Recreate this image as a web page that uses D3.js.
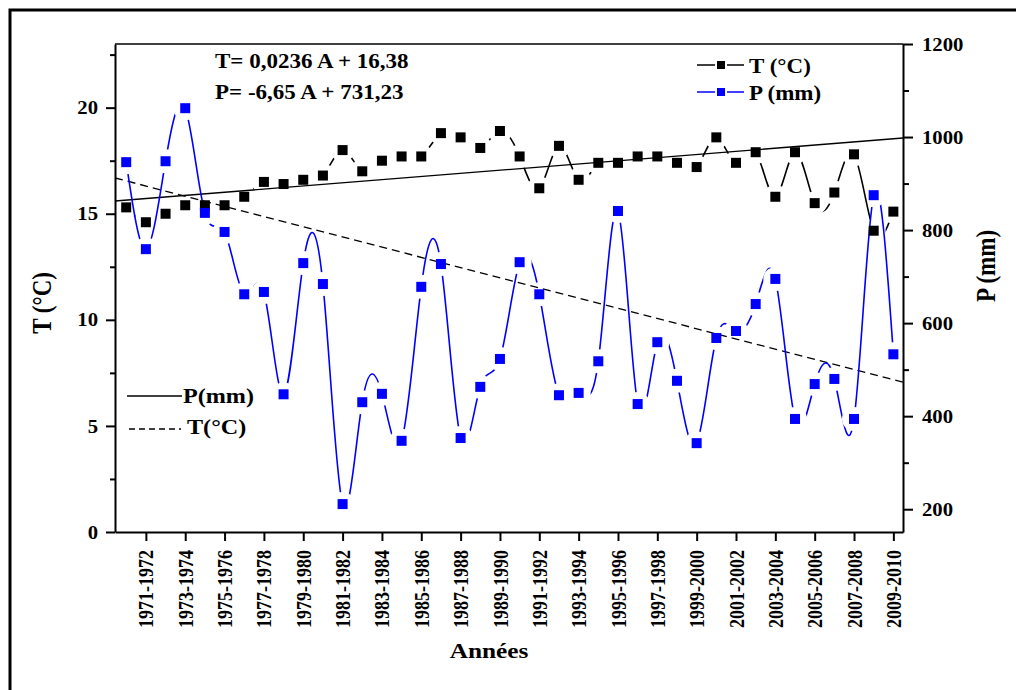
<!DOCTYPE html>
<html>
<head>
<meta charset="utf-8">
<script src="https://cdn.jsdelivr.net/npm/d3@7"></script>
<style>
  body { margin: 0; background: #fff; }
  text { font-family: "Liberation Serif", "Times New Roman", serif; font-weight: bold; fill: #000; }
</style>
</head>
<body>
<div id="chart"></div>
<script>
// hydrological years, one point per season
const seasons = [
  '1970-1971', '1971-1972', '1972-1973', '1973-1974', '1974-1975', '1975-1976', '1976-1977', '1977-1978',
  '1978-1979', '1979-1980', '1980-1981', '1981-1982', '1982-1983', '1983-1984', '1984-1985', '1985-1986',
  '1986-1987', '1987-1988', '1988-1989', '1989-1990', '1990-1991', '1991-1992', '1992-1993', '1993-1994',
  '1994-1995', '1995-1996', '1996-1997', '1997-1998', '1998-1999', '1999-2000', '2000-2001', '2001-2002',
  '2002-2003', '2003-2004', '2004-2005', '2005-2006', '2006-2007', '2007-2008', '2008-2009', '2009-2010'
];
const tempT = [
  15.3, 14.6, 15.0, 15.4, 15.4, 15.4, 15.8, 16.5, 16.4, 16.6,
  16.8, 18.0, 17.0, 17.5, 17.7, 17.7, 18.8, 18.6, 18.1, 18.9,
  17.7, 16.2, 18.2, 16.6, 17.4, 17.4, 17.7, 17.7, 17.4, 17.2,
  18.6, 17.4, 17.9, 15.8, 17.9, 15.5, 16.0, 17.8, 14.2, 15.1
];
const precipP = [
  946, 759, 948, 1062, 837, 796, 662, 667, 447, 729,
  684, 211, 430, 448, 347, 678, 727, 353, 463, 523,
  731, 662, 445, 450, 518, 841, 426, 559, 476, 342,
  568, 583, 641, 695, 394, 469, 480, 394, 875, 533
];
const xTickLabels = [
  '1971-1972', '1973-1974', '1975-1976', '1977-1978', '1979-1980', '1981-1982', '1983-1984',
  '1985-1986', '1987-1988', '1989-1990', '1991-1992', '1993-1994', '1995-1996', '1997-1998',
  '1999-2000', '2001-2002', '2003-2004', '2005-2006', '2007-2008', '2009-2010'
];
const tTicks = [0, 5, 10, 15, 20];
const tMinor = [2.5, 7.5, 12.5, 17.5, 22.5];
const pTicks = [200, 400, 600, 800, 1000, 1200];
const pMinor = [300, 500, 700, 900, 1100];
// regression lines, values at left and right edge of the plot
const trendT = [15.6, 18.57];
const trendP = [912, 473];

const W = 1016, H = 690;
const SX = 1.15; // the source picture is a bit stretched horizontally
const pL = 115, pR = 903, pT = 44, pB = 532;

const svg = d3.select('#chart').append('svg').attr('width', W).attr('height', H);

const x = d3.scaleLinear().domain([-0.57, 39.49]).range([pL, pR]);
const yT = d3.scaleLinear().domain([0, 23]).range([pB, pT]);
const yP = d3.scaleLinear().domain([151, 1200]).range([pB, pT]);

function label(g, px, py, str, size, opts = {}) {
  const t = g.append('text')
    .attr('transform', `translate(${px},${py}) scale(${SX},1)` + (opts.rotate ? ` rotate(${opts.rotate})` : ''))
    .attr('font-size', size)
    .attr('text-anchor', opts.anchor || 'start')
    .text(str);
  if (opts.fill) t.style('fill', opts.fill);
  return t;
}

// outer frame
svg.append('rect').attr('x', 10).attr('y', 10).attr('width', W + 20).attr('height', H + 20)
  .attr('fill', 'none').attr('stroke', '#000').attr('stroke-width', 3);

const defs = svg.append('defs');
defs.append('clipPath').attr('id', 'plotClip')
  .append('rect').attr('x', pL).attr('y', pT).attr('width', pR - pL).attr('height', pB - pT);

function gapMask(id, ys) {
  const m = defs.append('mask').attr('id', id)
    .attr('maskUnits', 'userSpaceOnUse').attr('x', 0).attr('y', 0).attr('width', W).attr('height', H);
  m.append('rect').attr('width', W).attr('height', H).attr('fill', '#fff');
  m.selectAll('circle').data(ys).join('circle')
    .attr('cx', (d, i) => x(i)).attr('cy', d => d).attr('r', 12).attr('fill', '#000');
}
gapMask('gapT', tempT.map(d => yT(d)));
gapMask('gapP', precipP.map(d => yP(d)));

// trend lines
const plot = svg.append('g').attr('clip-path', 'url(#plotClip)');
plot.append('line')
  .attr('x1', pL).attr('x2', pR).attr('y1', yT(trendT[0])).attr('y2', yT(trendT[1]))
  .attr('stroke', '#000').attr('stroke-width', 1.3);
plot.append('line')
  .attr('x1', pL).attr('x2', pR).attr('y1', yP(trendP[0])).attr('y2', yP(trendP[1]))
  .attr('stroke', '#000').attr('stroke-width', 1.3).attr('stroke-dasharray', '8,5');

// series lines (spline with gaps near the symbols)
const lineT = d3.line().x((d, i) => x(i)).y(d => yT(d)).curve(d3.curveNatural);
const lineP = d3.line().x((d, i) => x(i)).y(d => yP(d)).curve(d3.curveNatural);
plot.append('path').attr('d', lineT(tempT)).attr('fill', 'none')
  .attr('stroke', '#000').attr('stroke-width', 1.6).attr('mask', 'url(#gapT)');
plot.append('path').attr('d', lineP(precipP)).attr('fill', 'none')
  .attr('stroke', '#0000ff').attr('stroke-width', 1.6).attr('mask', 'url(#gapP)');

const S = 10;
svg.append('g').selectAll('rect').data(tempT).join('rect')
  .attr('x', (d, i) => x(i) - S / 2).attr('y', d => yT(d) - S / 2)
  .attr('width', S).attr('height', S).attr('fill', '#000');
svg.append('g').selectAll('rect').data(precipP).join('rect')
  .attr('x', (d, i) => x(i) - S / 2).attr('y', d => yP(d) - S / 2)
  .attr('width', S).attr('height', S).attr('fill', '#0000ff');

// axes
function styleAxis(g) {
  g.selectAll('path, line').attr('stroke', '#000').attr('stroke-width', 2);
}
const axL = svg.append('g').attr('transform', `translate(${pL},0)`)
  .call(d3.axisLeft(yT).tickValues(tTicks).tickSize(9).tickSizeOuter(0));
axL.selectAll('text').attr('x', null).attr('dy', '0.34em').attr('font-size', 18).attr('font-family', null)
  .attr('transform', `translate(-17,0) scale(${SX},1)`);
styleAxis(axL);
const axLm = svg.append('g').attr('transform', `translate(${pL},0)`)
  .call(d3.axisLeft(yT).tickValues(tMinor).tickSize(5).tickFormat(''));
axLm.select('.domain').remove();
styleAxis(axLm);

const axR = svg.append('g').attr('transform', `translate(${pR},0)`)
  .call(d3.axisRight(yP).tickValues(pTicks).tickSize(10).tickSizeOuter(0).tickFormat(d3.format('d')));
axR.selectAll('text').attr('x', null).attr('dy', '0.34em').attr('font-size', 18).attr('font-family', null)
  .attr('transform', `translate(19,0) scale(${SX},1)`);
styleAxis(axR);
const axRm = svg.append('g').attr('transform', `translate(${pR},0)`)
  .call(d3.axisRight(yP).tickValues(pMinor).tickSize(6).tickFormat(''));
axRm.select('.domain').remove();
styleAxis(axRm);

const tickIdx = xTickLabels.map(s => seasons.indexOf(s));
const axB = svg.append('g').attr('transform', `translate(0,${pB})`)
  .call(d3.axisBottom(x).tickValues(tickIdx).tickSize(9).tickSizeOuter(0).tickFormat(i => seasons[i]));
axB.selectAll('text').attr('y', null).attr('dy', '0.34em').attr('font-size', 18).attr('font-family', null)
  .attr('text-anchor', 'end')
  .attr('transform', `translate(0,18) scale(${SX},1) rotate(-90)`);
styleAxis(axB);

svg.append('line').attr('x1', pL).attr('x2', pR).attr('y1', pT).attr('y2', pT)
  .attr('stroke', '#000').attr('stroke-width', 1.5);

// titles
label(svg, 51, 303, 'T (°C)', 23, { rotate: -90, anchor: 'middle' });
label(svg, 995, 266, 'P (mm)', 23, { rotate: -90, anchor: 'middle' });
label(svg, 489, 658, 'Années', 22, { anchor: 'middle' });

// regression equations
label(svg, 215, 68, 'T= 0,0236 A + 16,38', 20);
label(svg, 215, 99, 'P= -6,65 A + 731,23', 20);

// legend, top right
const leg = svg.append('g');
[{ name: 'T (°C)', color: '#000', y: 65 }, { name: 'P (mm)', color: '#0000ff', y: 92 }].forEach(d => {
  leg.append('line').attr('x1', 697).attr('x2', 744).attr('y1', d.y).attr('y2', d.y)
    .attr('stroke', d.color).attr('stroke-width', 1.6);
  leg.append('rect').attr('x', 716).attr('y', d.y - 5).attr('width', 10).attr('height', 10)
    .attr('fill', d.color).attr('stroke', '#fff').attr('stroke-width', 2);
  label(leg, 749, d.y + 8, d.name, 20);
});

// legend for the trend lines
leg.append('line').attr('x1', 127).attr('x2', 182).attr('y1', 396).attr('y2', 396)
  .attr('stroke', '#000').attr('stroke-width', 1.3);
label(leg, 183, 403, 'P(mm)', 21);
leg.append('line').attr('x1', 129).attr('x2', 181).attr('y1', 429).attr('y2', 429)
  .attr('stroke', '#000').attr('stroke-width', 1.3).attr('stroke-dasharray', '6,4');
label(leg, 187, 434, 'T(°C)', 21);
</script>
</body>
</html>
